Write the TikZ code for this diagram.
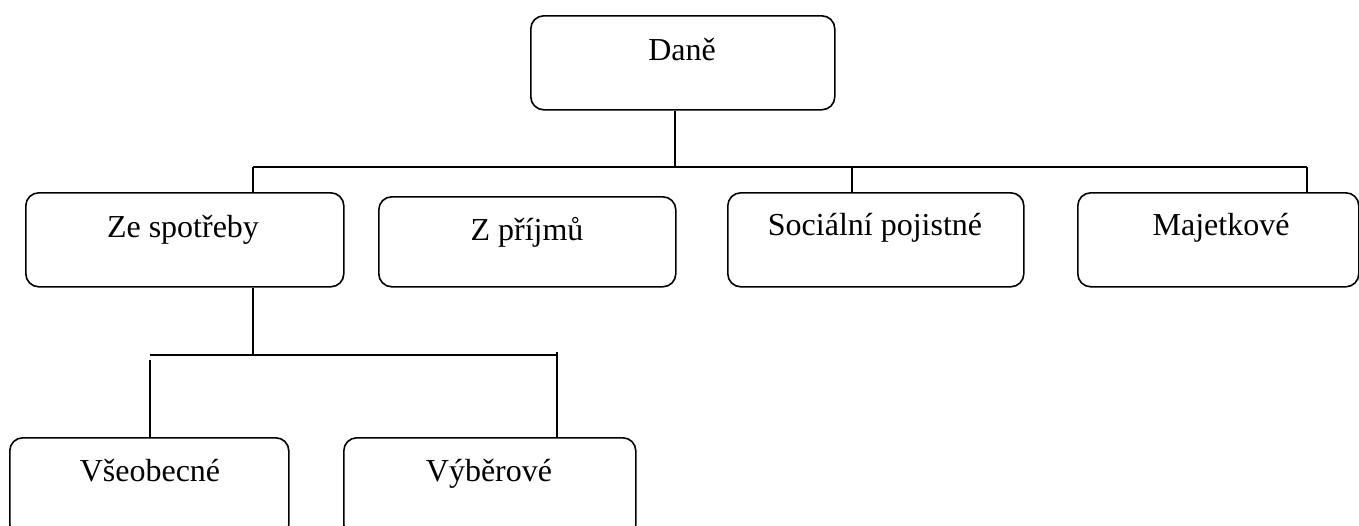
\documentclass[tikz,border=0pt]{standalone}
\usepackage{fontspec}
\setmainfont{Liberation Serif}
\begin{document}
\begin{tikzpicture}[x=1pt,y=-1pt,
  box/.style={draw=black,line width=1.6pt,rounded corners=13pt,anchor=north west,inner sep=0pt},
  lbl/.style={anchor=base,inner sep=0pt,font=\fontsize{32}{38}\selectfont},
  conn/.style={draw=black,line width=1.4pt}]
\useasboundingbox (0,0) rectangle (1359,525);
% boxes
\node[box,minimum width=304pt,minimum height=94pt] (dane) at (530,15) {};
\node[box,minimum width=318pt,minimum height=94pt] (zes) at (25,192) {};
\node[box,minimum width=297pt,minimum height=90pt] (zpr) at (378,196) {};
\node[box,minimum width=296pt,minimum height=94pt] (soc) at (727,192) {};
\node[box,minimum width=281pt,minimum height=94pt] (maj) at (1077,192) {};
\node[box,minimum width=279pt,minimum height=100pt] (vse) at (9,437) {};
\node[box,minimum width=292pt,minimum height=100pt] (vyb) at (343,437) {};
% labels
\node[lbl] (tdane) at (682,60) {Daně};
\node[lbl] (tzes) at (183,237) {Ze spotřeby};
\node[lbl] (tzpr) at (527,240) {Z příjmů};
\node[lbl] (tsoc) at (875,235) {Sociální pojistné};
\node[lbl] (tmaj) at (1221,235) {Majetkové};
\node[lbl] (tvse) at (150,481) {Všeobecné};
\node[lbl] (tvyb) at (489,481) {Výběrové};
% junction points
\coordinate (j0) at (675,167);
\coordinate (jl) at (253,167);
\coordinate (js) at (852,167);
\coordinate (jr) at (1307,167);
\coordinate (k0) at (253,355);
\coordinate (kl) at (150,355);
\coordinate (kl2) at (150,360);
\coordinate (kr) at (557,355);
\coordinate (kr2) at (557,352);
% connectors
\draw[conn] (dane.south -| j0) -- (j0);
\draw[conn] (jl) -- (jr);
\draw[conn] (jl) -- (zes.north -| jl);
\draw[conn] (js) -- (soc.north -| js);
\draw[conn] (jr) -- (maj.north -| jr);
\draw[conn] (zes.south -| k0) -- (k0);
\draw[conn] (kl) -- (kr);
\draw[conn] (kl2) -- (vse.north -| kl2);
\draw[conn] (kr2) -- (vyb.north -| kr2);
\end{tikzpicture}
\end{document}
